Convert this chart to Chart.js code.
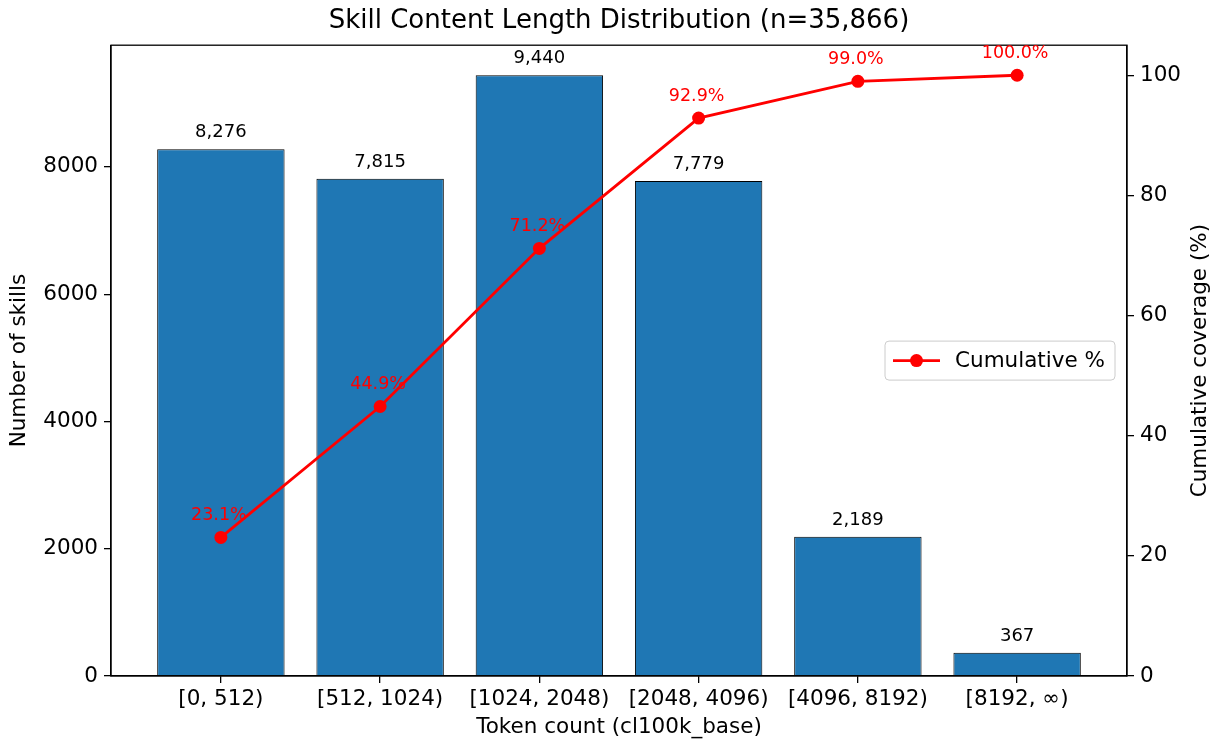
<!DOCTYPE html>
<html>
<head>
<meta charset="utf-8">
<script src="https://cdn.jsdelivr.net/npm/chart.js@4.4.1/dist/chart.umd.min.js"></script>
<style>
  html, body { margin: 0; padding: 0; background: #fff; }
  #wrap { width: 1212px; height: 740px; }
</style>
</head>
<body>
<div id="wrap"><canvas id="lengthChart" width="1212" height="740"></canvas></div>
<script>
const bins = ["[0, 512)", "[512, 1024)", "[1024, 2048)", "[2048, 4096)", "[4096, 8192)", "[8192, \u221e)"];
const skillCounts = [8276, 7815, 9440, 7779, 2189, 367];
const cumulativePct = [23.07, 44.86, 71.18, 92.87, 98.98, 100.0];
const countTicks = [0, 2000, 4000, 6000, 8000];
const pctTicks = [0, 20, 40, 60, 80, 100];

const FONT = "'DejaVu Sans', sans-serif";
const barBlue = "#1f77b4";
const lineRed = "#ff0000";

// value labels above bars and points, axes frame, legend box, right axis title
const annotatePlugin = {
  id: "annotate",
  afterDatasetsDraw(chart) {
    const ctx = chart.ctx;
    const area = chart.chartArea;
    ctx.save();
    ctx.strokeStyle = "#000";
    ctx.lineWidth = 1.3;
    ctx.strokeRect(area.left, area.top, area.right - area.left, area.bottom - area.top);

    ctx.textAlign = "center";
    ctx.textBaseline = "alphabetic";
    ctx.font = "18px " + FONT;
    ctx.fillStyle = "#000";
    chart.getDatasetMeta(1).data.forEach((bar, i) => {
      ctx.fillText(skillCounts[i].toLocaleString("en-US"), bar.x, bar.y - 12);
    });

    ctx.font = "17.5px " + FONT;
    ctx.fillStyle = lineRed;
    chart.getDatasetMeta(0).data.forEach((pt, i) => {
      ctx.fillText(cumulativePct[i].toFixed(1) + "%", pt.x - 2, pt.y - 17.5);
    });

    // legend, matplotlib style "center right"
    const w = 230, h = 39;
    const lx = area.right - 12 - w;
    const ly = (area.top + area.bottom) / 2 - h / 2;
    ctx.globalAlpha = 0.8;
    ctx.fillStyle = "#fff";
    ctx.beginPath();
    ctx.roundRect(lx, ly, w, h, 4);
    ctx.fill();
    ctx.globalAlpha = 1;
    ctx.strokeStyle = "#cccccc";
    ctx.lineWidth = 1;
    ctx.stroke();
    const cy = ly + h / 2;
    ctx.strokeStyle = lineRed;
    ctx.lineWidth = 2.8;
    ctx.beginPath();
    ctx.moveTo(lx + 8, cy);
    ctx.lineTo(lx + 55, cy);
    ctx.stroke();
    ctx.fillStyle = lineRed;
    ctx.beginPath();
    ctx.arc(lx + 31.5, cy, 6.5, 0, Math.PI * 2);
    ctx.fill();
    ctx.fillStyle = "#000";
    ctx.textAlign = "left";
    ctx.textBaseline = "middle";
    ctx.font = "21.5px " + FONT;
    ctx.fillText("Cumulative %", lx + 70, cy + 1);

    // right axis title reads bottom-to-top like matplotlib
    ctx.translate(1200, (area.top + area.bottom) / 2);
    ctx.rotate(-Math.PI / 2);
    ctx.textAlign = "center";
    ctx.fillText("Cumulative coverage (%)", 0, 0);
    ctx.restore();
  }
};

const tickFont = { family: FONT, size: 21.5 };

const chart = new Chart(document.getElementById("lengthChart"), {
  type: "bar",
  data: {
    datasets: [
      {
        type: "line",
        label: "Cumulative %",
        data: cumulativePct.map((v, i) => ({ x: i, y: v })),
        yAxisID: "y1",
        borderColor: lineRed,
        backgroundColor: lineRed,
        borderWidth: 2.8,
        pointRadius: 6.5,
        pointHoverRadius: 6.5,
        pointBorderWidth: 0,
        tension: 0,
        order: 0,
      },
      {
        label: "Skills",
        data: skillCounts.map((v, i) => ({ x: i, y: v })),
        yAxisID: "y",
        backgroundColor: barBlue,
        borderColor: "#000",
        borderWidth: 1,
        barPercentage: 0.8,
        categoryPercentage: 1.0,
        order: 1,
      },
    ],
  },
  options: {
    responsive: false,
    animation: false,
    layout: { padding: 0 },
    plugins: {
      legend: { display: false },
      tooltip: { enabled: false },
      title: {
        display: true,
        text: "Skill Content Length Distribution (n=35,866)",
        color: "#000",
        fullSize: false,
        font: { family: FONT, size: 26, weight: "normal" },
        padding: { top: 6, bottom: 8 },
      },
    },
    scales: {
      x: {
        type: "linear",
        min: -0.69,
        max: 5.69,
        offset: false,
        afterBuildTicks: (axis) => { axis.ticks = bins.map((b, i) => ({ value: i })); },
        afterFit: (axis) => { axis.height = 64; },
        ticks: {
          color: "#000",
          font: tickFont,
          padding: 4,
          maxRotation: 0,
          autoSkip: false,
          callback: (v) => bins[v],
        },
        grid: { offset: false, drawOnChartArea: false, drawTicks: true, tickLength: 7, color: "#000", lineWidth: 1.3 },
        border: { display: true, color: "#000", width: 1.3 },
        title: {
          display: true,
          text: "Token count (cl100k_base)",
          color: "#000",
          font: tickFont,
          padding: 0,
        },
      },
      y: {
        position: "left",
        min: 0,
        max: 9912,
        afterBuildTicks: (axis) => { axis.ticks = countTicks.map((v) => ({ value: v })); },
        afterFit: (axis) => { axis.width = 111; },
        ticks: { color: "#000", font: tickFont, padding: 6, callback: (v) => String(v) },
        grid: { drawOnChartArea: false, drawTicks: true, tickLength: 7, color: "#000", lineWidth: 1.3 },
        border: { display: true, color: "#000", width: 1.3 },
        title: {
          display: true,
          text: "Number of skills",
          color: "#000",
          font: tickFont,
          padding: { top: 7, bottom: 0 },
        },
      },
      y1: {
        position: "right",
        min: 0,
        max: 105,
        afterBuildTicks: (axis) => { axis.ticks = pctTicks.map((v) => ({ value: v })); },
        afterFit: (axis) => { axis.width = 85; },
        ticks: { color: "#000", font: tickFont, padding: 6, callback: (v) => String(v) },
        grid: { drawOnChartArea: false, drawTicks: true, tickLength: 7, color: "#000", lineWidth: 1.3 },
        border: { display: true, color: "#000", width: 1.3 },
        title: { display: false },
      },
    },
  },
  plugins: [annotatePlugin],
});
</script>
</body>
</html>
